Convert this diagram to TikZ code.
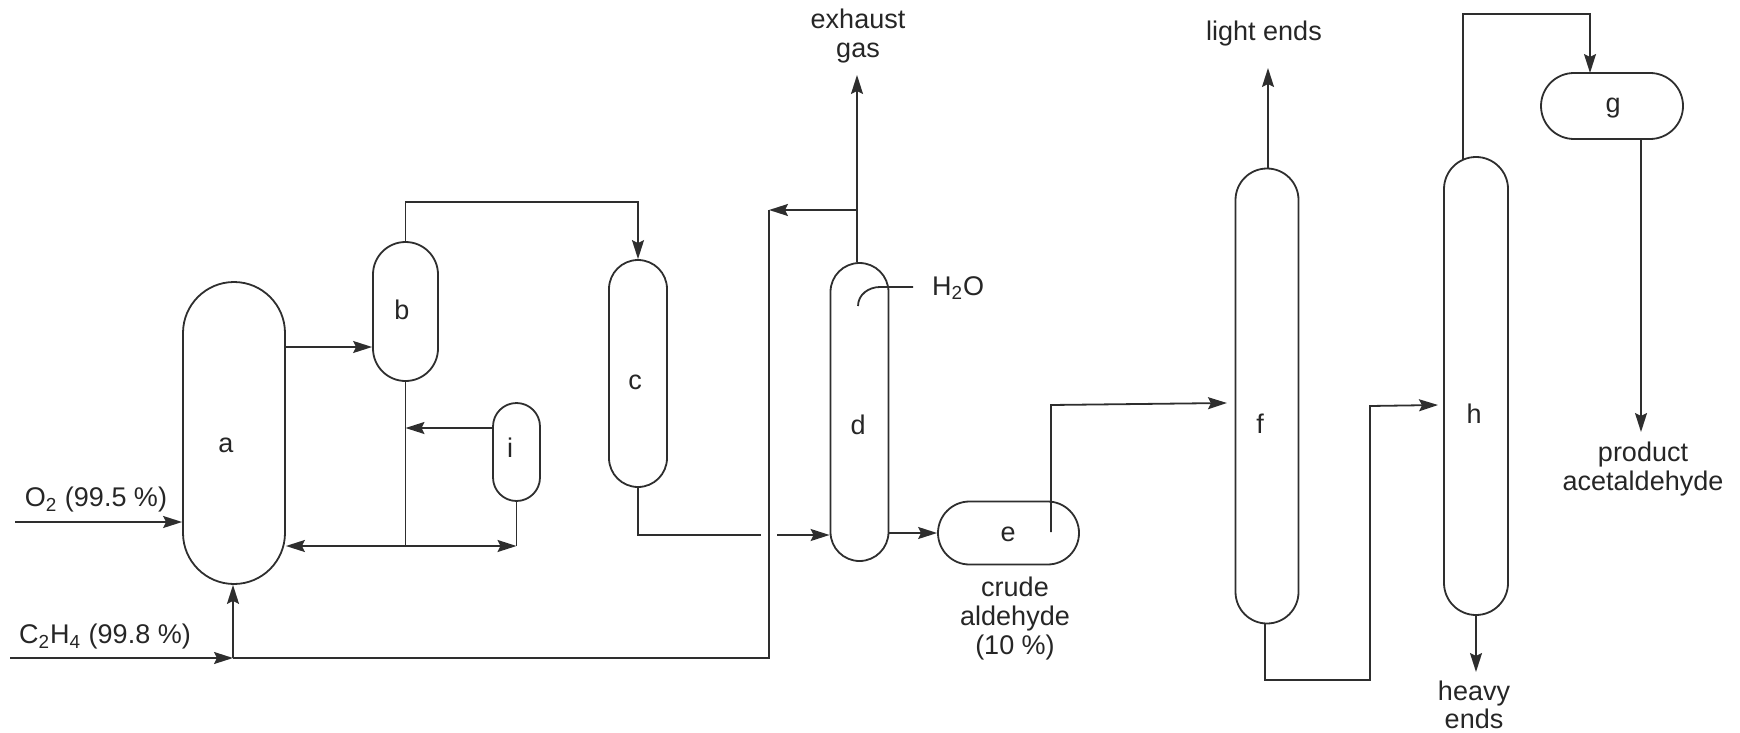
\documentclass[tikz,border=0pt]{standalone}
\usepackage{fontspec}
\setmainfont{Liberation Sans}
\usetikzlibrary{arrows.meta}

\tikzset{
    pipe/.style={line width=0.9pt, draw=black!82},
    flow/.style={pipe, -{Stealth[length=9.5pt, width=6pt, inset=1.5pt]}},
    vessel/.style={draw=black!82, line width=0.9pt, inner sep=0pt},
    tag/.style={font=\fontsize{13.5}{14}\selectfont, text=black!85, inner sep=0pt, align=center},
}

\begin{document}
\begin{tikzpicture}[x=0.5pt, y=-0.5pt]

    \useasboundingbox (0,0) rectangle (1740,733);

    \foreach \v/\x/\y/\w/\h/\tx/\ty in {
        a/234/433/102/302/226/445,
        b/405.5/311.5/65/139/402/310,
        c/638/373.5/58/227/635/382,
        i/516.5/452/47/98/510/448,
        d/859.5/412/58/298/858/425,
        e/1008.5/533/141/63/1008/534,
        f/1267/396/63/455/1260/424,
        g/1612/106/142/66/1613/108,
        h/1476/386/64/458/1474/414}
    {
      \pgfmathsetmacro{\r}{min(\w,\h)/4}
      \node [vessel, minimum width=\w*0.5pt, minimum height=\h*0.5pt, rounded corners=\r pt] (\v) at (\x,\y) {};
      \node [tag] (\v-tag) at (\tx,\ty) {\v};
    }

    % feed lines
    \coordinate (o2-in) at (15,522);
    \coordinate (c2h4-in) at (10,658);
    \coordinate (c2h4-a) at (233,658);
    \coordinate (recycle) at (769,658);
    \coordinate (recycle-top) at (769,210);
    \node [tag] (o2-label) at (96,500) {O\textsubscript{2} (99.5 \%)};
    \node [tag] (c2h4-label) at (105,637) {C\textsubscript{2}H\textsubscript{4} (99.8 \%)};

    \draw [flow] (o2-in) -- (o2-in -| a.west);
    \draw [flow] (c2h4-in) -- (c2h4-a);
    \draw [flow] (c2h4-a) -- (c2h4-a |- a.south);
    \draw [pipe] (c2h4-a) -- (recycle) -- (recycle-top);

    % a, b, i loop
    \coordinate (a-out) at (285,347);
    \coordinate (loop) at (405.5,546);
    \coordinate (i-corner) at (516.5,546);
    \coordinate (i-out) at (493,428);

    \draw [flow] (a-out) -- (a-out -| b.west);
    \draw [pipe] (b.south) -- (loop);
    \draw [flow] (i-out) -- (i-out -| b.south);
    \draw [flow] (loop) -- (loop -| a.east);
    \draw [flow] (loop) -- (i-corner);
    \draw [pipe] (i.south) -- (i-corner);

    % b to c to d
    \coordinate (c-in) at (405.5,202);
    \coordinate (c-out) at (761,535);
    \coordinate (d-in) at (777,535);

    \draw [flow] (b.north) -- (c-in) -| (c.north);
    \draw [pipe] (c.south) |- (c-out);
    \draw [flow] (d-in) -- (d-in -| d.west);

    % d outlets
    \coordinate (d-top) at (857,210);
    \coordinate (exhaust) at (857,75);
    \coordinate (d-out) at (888,533);
    \coordinate (water-in) at (913,287);
    \coordinate (water-bend) at (880,287);
    \coordinate (water-end) at (858,306);
    \node [tag] (exhaust-label) at (858,36) {exhaust\\[0.5pt]gas};
    \node [tag] (water-label) at (958,288) {H\textsubscript{2}O};

    \draw [flow] (d-top |- d.north) -- (exhaust);
    \draw [flow] (d-top) -- (recycle-top);
    \draw [flow] (d-out) -- (d-out -| e.west);
    \draw [pipe] (water-in) -- (water-bend) to [out=180, in=90] (water-end);

    % e to f to h
    \coordinate (e-stem) at (1051,532);
    \coordinate (e-up) at (1051,405);
    \coordinate (f-in) at (1227,403);
    \coordinate (f-out) at (1265,624);
    \coordinate (f-down) at (1265,680);
    \coordinate (h-up) at (1370,680);
    \coordinate (h-bend) at (1370,406);
    \coordinate (h-in) at (1438,405);
    \coordinate (f-top) at (1268,169);
    \coordinate (light) at (1268,68);
    \node [tag] (crude-label) at (1015,619) {crude\\[0.5pt]aldehyde\\[0.5pt](10 \%)};
    \node [tag] (light-label) at (1264,34) {light ends};

    \draw [flow] (e-stem) -- (e-up) -- (f-in);
    \draw [flow] (f-out) -- (f-down) -- (h-up) -- (h-bend) -- (h-in);
    \draw [flow] (f-top) -- (light);

    % h to g
    \coordinate (h-out) at (1463,160);
    \coordinate (h-rise) at (1463,14);
    \coordinate (g-down) at (1590,14);
    \coordinate (g-in) at (1590,73);
    \coordinate (g-out) at (1641,139);
    \coordinate (product) at (1641,432);
    \coordinate (heavy) at (1476,672);
    \node [tag] (product-label) at (1643,469.5) {product\\[0.5pt]acetaldehyde};
    \node [tag] (heavy-label) at (1474,704.5) {heavy\\[0pt]ends};

    \draw [flow] (h-out) -- (h-rise) -- (g-down) -- (g-in);
    \draw [flow] (g-out) -- (product);
    \draw [flow] (h.south) -- (heavy);

\end{tikzpicture}
\end{document}
